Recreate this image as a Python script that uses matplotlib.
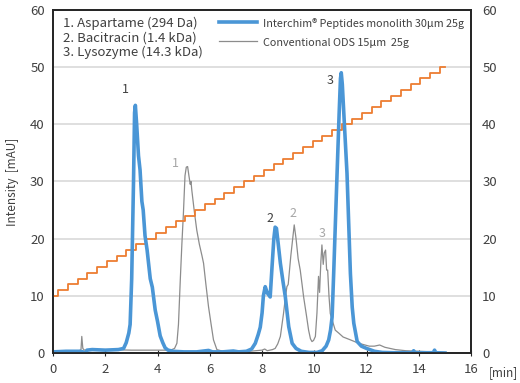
import matplotlib.pyplot as plt
from matplotlib.lines import Line2D

plt.rcParams['font.family'] = ['Noto Sans CJK JP', 'DejaVu Sans']

# Interchim peptides monolith (blue, thick)
blue_t = [0, 0.5, 1.0, 1.15, 1.22, 1.3, 1.5, 2.0, 2.5, 2.7, 2.8, 2.9, 2.95, 3.01, 3.08,
          3.12, 3.15, 3.2, 3.27, 3.33, 3.4, 3.45, 3.52, 3.6, 3.72, 3.8, 3.91, 4.0, 4.1,
          4.2, 4.29, 4.4, 4.6, 5.0, 5.5, 5.95, 6.1, 6.5, 6.9, 7.1, 7.4, 7.6, 7.74, 7.85,
          7.93, 8.0, 8.05, 8.12, 8.2, 8.31, 8.38, 8.45, 8.5, 8.55, 8.62, 8.7, 8.8, 8.89,
          9.02, 9.15, 9.3, 9.5, 9.8, 10.1, 10.3, 10.45, 10.55, 10.62, 10.68, 10.74, 10.8,
          10.87, 10.95, 11.0, 11.03, 11.07, 11.15, 11.25, 11.38, 11.45, 11.51, 11.64,
          11.8, 12.0, 12.3, 12.6, 13.0, 13.5, 13.75, 13.8, 13.85, 14.2, 14.55, 14.6,
          14.65, 15.0]
blue_v = [0.2, 0.3, 0.3, 0.2, -0.3, 0.5, 0.6, 0.5, 0.6, 0.8, 1.8, 3.5, 5, 13, 30,
          42, 43.3, 40, 34.5, 32, 26.5, 25, 20.5, 18, 13, 11.5, 7.5, 5.5, 3,
          1.8, 0.9, 0.5, 0.3, 0.2, 0.2, 0.45, 0.2, 0.2, 0.35, 0.2, 0.3, 0.7, 1.7, 3.2,
          4.5, 7, 10, 11.6, 10.5, 9.8, 15, 20, 22, 21.8, 19, 15.7, 12.5, 9.8,
          4.6, 1.7, 0.8, 0.3, 0.1, 0.1, 0.4, 1.2, 2.3, 4, 6.3, 13.9, 22,
          31.4, 42, 48, 49, 47, 40, 31.4, 13.9, 8, 5.2, 2,
          1.2, 0.8, 0.3, 0.1, 0.05, 0.05, 0.05, 0.4, 0.05, 0.05, 0.05, 0.5,
          0.05, 0.0]

# Conventional ODS (gray, thin)
gray_t = [0, 0.5, 1.0, 1.07, 1.1, 1.14, 1.2, 1.5, 2.0, 3.0, 4.0, 4.5, 4.65, 4.74, 4.8,
          4.87, 4.93, 4.99, 5.05, 5.1, 5.15, 5.2, 5.25, 5.28, 5.31, 5.4, 5.5, 5.6, 5.7,
          5.76, 5.85, 5.95, 6.05, 6.14, 6.27, 6.5, 7.0, 7.5, 8.0, 8.1, 8.2, 8.4, 8.5,
          8.6, 8.7, 8.82, 8.9, 8.95, 9.0, 9.1, 9.23, 9.3, 9.38, 9.46, 9.53, 9.59, 9.7,
          9.78, 9.85, 9.91, 9.97, 10.04, 10.1, 10.16, 10.2, 10.25, 10.29, 10.34, 10.38,
          10.43, 10.47, 10.51, 10.56, 10.61, 10.7, 10.8, 10.93, 11.1, 11.38, 11.7,
          12.1, 12.3, 12.5, 12.7, 13.1, 13.5, 14.0, 14.5, 15.0]
gray_v = [0.3, 0.35, 0.4, 0.6, 2.9, 0.8, 0.5, 0.6, 0.6, 0.5, 0.5, 0.5, 0.8, 1.7, 5,
          12.8, 19, 24.5, 31, 32.5, 32.6, 31, 29.5, 30, 28.5, 25, 21.5, 19, 17,
          15.7, 12, 8.1, 5, 2.3, 0.6, 0.3, 0.4, 0.3, 0.5, 0.7, 0.4, 0.6, 0.8,
          1.6, 2.9, 6.9, 10, 11.6, 12, 17, 22.4, 20, 16.5, 14.5, 12, 9.8, 6.5,
          4, 2.5, 2.0, 2.2, 2.9, 7, 13.4, 10.6, 16, 18.9, 15.5, 17.5,
          18, 14.5, 14.5, 10, 6.9, 5.5, 4, 3.5, 2.8, 2.3, 1.7,
          1.2, 1.2, 1.4, 1.0, 0.6, 0.4, 0.3, 0.2, 0.1]

# gradient steps (orange)
grad_t = [0, 0.19, 0.56, 0.94, 1.31, 1.69, 2.06, 2.44, 2.81, 3.19, 3.56, 3.94, 4.31,
          4.69, 5.06, 5.44, 5.81, 6.19, 6.56, 6.94, 7.31, 7.69, 8.06, 8.44, 8.81, 9.19,
          9.56, 9.94, 10.31, 10.69, 11.06, 11.44, 11.81, 12.19, 12.56, 12.94, 13.31,
          13.69, 14.06, 14.44, 14.81, 15.0]
grad_v = [10, 11, 12, 13, 14, 15, 16, 17, 18, 19, 20, 21, 22, 23, 24, 25, 26, 27, 28,
          29, 30, 31, 32, 33, 34, 35, 36, 37, 38, 39, 40, 41, 42, 43, 44, 45, 46, 47,
          48, 49, 50, 50]

blue_labels = [('1', 2.76, 46.0), ('2', 8.31, 23.6), ('3', 10.6, 47.7)]
gray_labels = [('1', 4.67, 33.2), ('2', 9.18, 24.4), ('3', 10.29, 20.9)]
compounds = ['1. Aspartame (294 Da)', '2. Bacitracin (1.4 kDa)', '3. Lysozyme (14.3 kDa)']

fig = plt.figure(figsize=(5.2, 3.83), dpi=100)
ax = fig.add_axes([0.102, 0.0783, 0.804, 0.896])
ax2 = ax.twinx()

ax.set_xlim(0, 16)
ax.set_ylim(0, 60)
ax2.set_ylim(0, 60)
ax.set_yticks(range(0, 61, 10))
ax2.set_yticks(range(0, 61, 10))
ax.set_xticks(range(0, 17, 2))
ax.grid(axis='y', color='#d9d9d9', linewidth=1.2)
ax.set_axisbelow(True)

ax.plot(gray_t, gray_v, color='#8c8c8c', linewidth=0.9, zorder=3)
ax.plot(grad_t, grad_v, color='#ed7d31', linewidth=1.3, drawstyle='steps-post', zorder=4)
ax.plot(blue_t, blue_v, color='#4a96d6', linewidth=2.6, zorder=5)

for s, x, y in blue_labels:
    ax.text(x, y, s, color='#404040', fontsize=9, ha='center', va='center', zorder=6)
for s, x, y in gray_labels:
    ax.text(x, y, s, color='#a6a6a6', fontsize=9, ha='center', va='center', zorder=6)

for i, c in enumerate(compounds):
    ax.text(0.025, 0.962 - i * 0.043, c, transform=ax.transAxes, fontsize=9.5,
            color='#404040', va='center', ha='left')

handles = [Line2D([], [], color='#4a96d6', linewidth=2.6),
           Line2D([], [], color='#8c8c8c', linewidth=0.9)]
leg = ax.legend(handles, ['Interchim® Peptides monolith 30µm 25g', 'Conventional ODS 15µm  25g'],
                loc='upper left', bbox_to_anchor=(0.366, 1.015), frameon=False,
                handlelength=2.8, handletextpad=0.4, labelspacing=0.55)
leg.get_texts()[0].set_fontsize(7.8)
leg.get_texts()[1].set_fontsize(7.8)
for t in leg.get_texts():
    t.set_color('#404040')

for a in (ax, ax2):
    for sp in a.spines.values():
        sp.set_color('#262626')
        sp.set_linewidth(1.3)
ax.tick_params(axis='y', length=0, labelsize=9.5, colors='#404040', pad=6)
ax2.tick_params(axis='y', length=0, labelsize=9.5, colors='#404040', pad=8)
ax.tick_params(axis='x', direction='inout', length=4, labelsize=9.5, colors='#404040', pad=5)
ax.tick_params(axis='x', color='#262626')

ax.set_ylabel('Intensity  [mAU]', fontsize=8.5, color='#404040', labelpad=8)
fig.text(0.94, 0.028, '[min]', fontsize=8.5, color='#404040', ha='left', va='center')

fig.savefig('out.png', dpi=100)
